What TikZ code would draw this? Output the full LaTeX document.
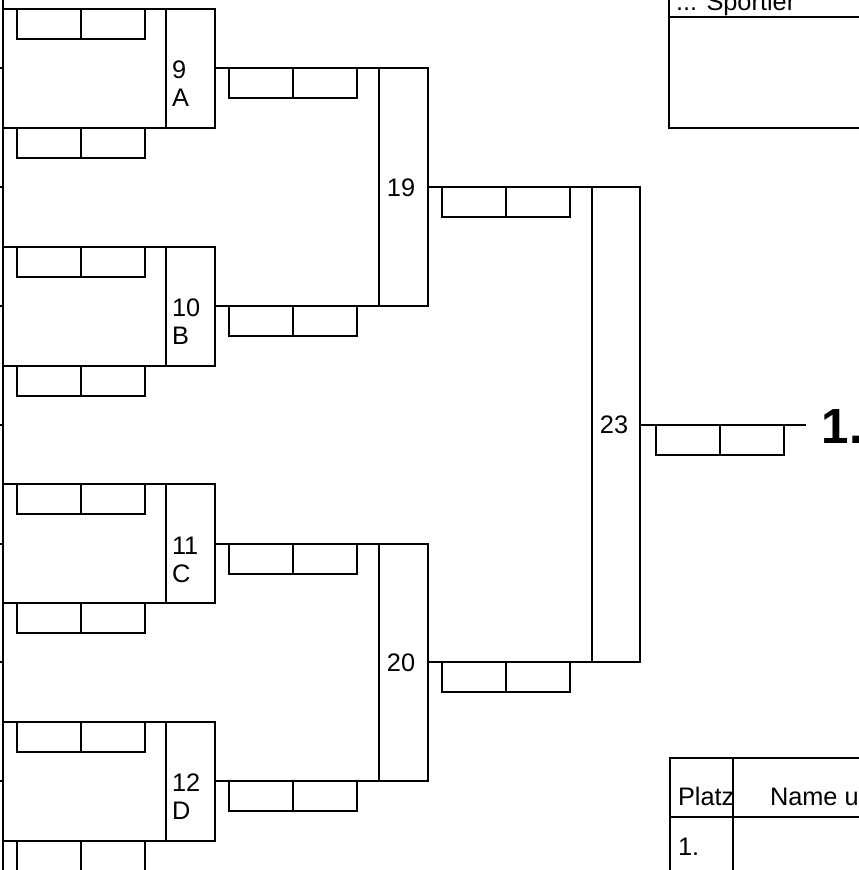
\documentclass[tikz,border=0pt]{standalone}
\usepackage{fontspec}
\setmainfont{Liberation Sans}
\usetikzlibrary{calc}
\tikzset{
  lbl/.style={font=\fontsize{19}{21}\selectfont, inner sep=0pt},
  scores/.pic={\draw (0,0) rectangle (128,30) (64,0) -- (64,30);}
}

\begin{document}
\begin{tikzpicture}[x=0.75pt, y=-0.75pt, line width=1.5pt]
  \useasboundingbox (0,0) rectangle (859,870);
  \clip (0,0) rectangle (859,870);
  % edge of the round before, with its lines coming in
  \draw (3,-10) -- (3,880);
  \foreach \i in {0,...,6}
    \draw (-5,68.5+118.75*\i) -- (3,68.5+118.75*\i);
  % first round: match number and group letter
  \foreach \n/\l/\y in {9/A/9, 10/B/246.5, 11/C/484, 12/D/721.5}{
    \draw (3,\y) rectangle (215,\y+119) (166,\y) -- (166,\y+119);
    \pic at (17,\y) {scores};
    \pic at (17,\y+119) {scores};
    \pic at (229,\y+59.5) {scores};
    \coordinate (out\n) at (215,\y+59.5);
    \node[lbl, anchor=base west] (num\n) at (171,\y+70) {\n};
    \node[lbl, anchor=base west] (grp\n) at (171,\y+98) {\l};}
  % second round
  \foreach \n/\a/\b/\y in {19/9/10/187.25, 20/11/12/662.25}{
    \coordinate (out\n) at (428,\y);
    \draw (out\a) -- (out\a -| out\n) -- (out\b -| out\n) -- (out\b);
    \draw ($(out\a -| out\n)+(-49,0)$) rectangle (out\b -| out\n);
    \node[lbl, anchor=base] (num\n) at (401,\y+9) {\n};
    \pic at (442,\y) {scores};}
  % final
  \coordinate (out23) at (640,424.75);
  \draw (out19) -- (out19 -| out23) -- (out20 -| out23) -- (out20);
  \draw ($(out19 -| out23)+(-48,0)$) rectangle (out20 -| out23);
  \node[lbl, anchor=base] (num23) at (614,433.75) {23};
  \pic at (656,424.75) {scores};
  \node[font=\fontsize{37}{37}\selectfont\bfseries, inner xsep=11pt, inner ysep=0pt,
    anchor=base west] (first) at (806,443) {1.};
  \draw (out23) -- (first.west |- out23);
  % winner box, top right
  \draw (669,-20) rectangle (880,128) (669,17) -- (880,17);
  \node[lbl, anchor=base west] (head) at (675,11) {... Sportler};
  % ranking table, bottom right
  \draw (670,900) |- (880,758) (733,758) -- (733,900) (670,817) -- (880,817);
  \node[lbl, anchor=base west] (platz) at (677,805) {Platz};
  \node[lbl, anchor=base west] (name) at (769,805) {Name u};
  \node[lbl, anchor=base west] (rank1) at (677,855) {1.};
\end{tikzpicture}
\end{document}
